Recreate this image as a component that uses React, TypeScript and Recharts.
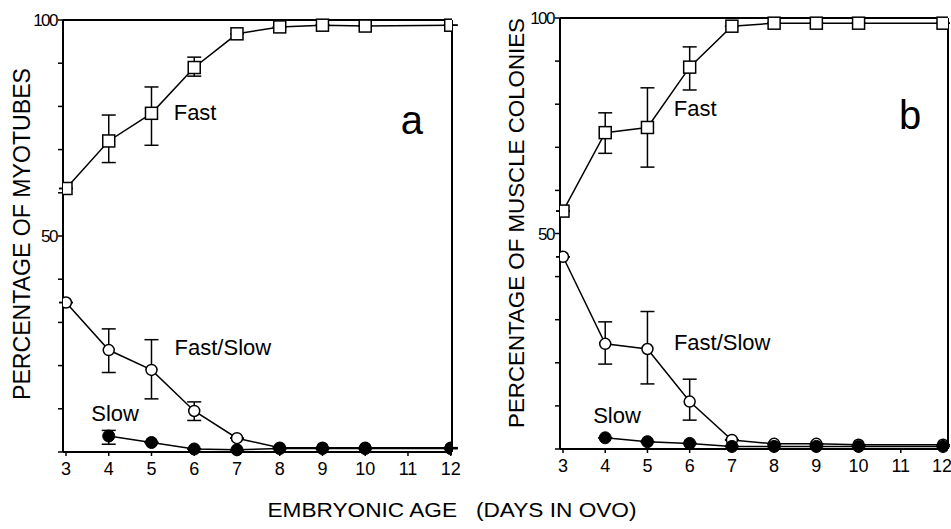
import React from 'react';
import { LineChart, Line, XAxis, YAxis, ErrorBar, ReferenceLine, ReferenceDot } from 'recharts';

// embryonic age (days in ovo)
const days = [3, 4, 5, 6, 7, 8, 9, 10, 12];
const xTicks = [3, 4, 5, 6, 7, 8, 9, 10, 11, 12];
const yTicks = [0, 10, 20, 30, 40, 50, 60, 70, 80, 90, 100];

// panel a: myotubes
const fastA = [61, 72, 78.4, 89, 96.8, 98.4, 98.8, 98.6, 98.8];
const fastALo = [0, 5, 7.4, 2, 0, 0, 0, 0, 0];
const fastAHi = [0, 6, 6.1, 2.4, 0, 0, 0, 0, 0];
const mixedA = [34.6, 23.6, 19, 9.5, 3.2, 1, 1, 1, 1];
const mixedALo = [0, 5.2, 6.7, 2.2, 0, 0, 0, 0, 0];
const mixedAHi = [0, 4.9, 7, 2.1, 0, 0, 0, 0, 0];
const slowA = [null, 3.7, 2.2, 0.7, 0.5, 0.8, 0.8, 0.8, 0.8];
const slowALo = [0, 1.9, 0, 0, 0, 0, 0, 0, 0];
const slowAHi = [0, 1.3, 0, 0, 0, 0, 0, 0, 0];

// panel b: muscle colonies
const fastB = [55.2, 73.4, 74.6, 88.6, 98.1, 98.8, 98.8, 98.8, 98.8];
const fastBLo = [0, 4.8, 9.2, 5.3, 0, 0, 0, 0, 0];
const fastBHi = [0, 4.6, 9.2, 4.7, 0, 0, 0, 0, 0];
const mixedB = [44.6, 24.4, 23.2, 11, 2.1, 1.2, 1.2, 1, 1];
const mixedBLo = [0, 4.7, 8.1, 4.3, 0, 0, 0, 0, 0];
const mixedBHi = [0, 5.1, 8.7, 5.2, 0, 0, 0, 0, 0];
const slowB = [null, 2.6, 1.7, 1.3, 0.6, 0.6, 0.6, 0.6, 0.6];

const FONT = '"Liberation Sans", Arial, sans-serif';

const buildRows = (
  fast: number[], fastLo: number[], fastHi: number[],
  mixed: number[], mixedLo: number[], mixedHi: number[],
  slow: (number | null)[], slowLo?: number[], slowHi?: number[]
) =>
  days.map((d, i) => ({
    day: d,
    fast: fast[i],
    fastErr: [fastLo[i], fastHi[i]],
    mixed: mixed[i],
    mixedErr: [mixedLo[i], mixedHi[i]],
    slow: slow[i],
    slowErr: [slowLo ? slowLo[i] : 0, slowHi ? slowHi[i] : 0],
  }));

const rowsA = buildRows(fastA, fastALo, fastAHi, mixedA, mixedALo, mixedAHi, slowA, slowALo, slowAHi);
const rowsB = buildRows(fastB, fastBLo, fastBHi, mixedB, mixedBLo, mixedBHi, slowB);

const squareDot = (p: any) => {
  if (p.cx == null || p.cy == null) return <g key={p.key} />;
  return <rect key={p.key} x={p.cx - 6} y={p.cy - 6} width={12} height={12} fill="#fff" stroke="#000" strokeWidth={1.5} />;
};
const openDot = (p: any) => {
  if (p.cx == null || p.cy == null) return <g key={p.key} />;
  return <circle key={p.key} cx={p.cx} cy={p.cy} r={5.5} fill="#fff" stroke="#000" strokeWidth={1.5} />;
};
const filledDot = (p: any) => {
  if (p.cx == null || p.cy == null) return <g key={p.key} />;
  return <circle key={p.key} cx={p.cx} cy={p.cy} r={6} fill="#000" stroke="#000" strokeWidth={1} />;
};

interface Note { x: number; y: number; text: string; size: number }

interface PanelProps {
  rows: any[];
  left: number;
  width: number;
  margin: { top: number; right: number; left: number; bottom: number };
  xDomain: [number, number];
  xAxisHeight: number;
  notes: Note[];
}

const Panel: React.FC<PanelProps> = ({ rows, left, width, margin, xDomain, xAxisHeight, notes }) => (
  <div style={{ position: 'absolute', left, top: 0 }}>
    <LineChart width={width} height={480} data={rows} margin={margin}>
      <XAxis
        dataKey="day"
        type="number"
        domain={xDomain}
        ticks={xTicks}
        allowDataOverflow
        height={xAxisHeight}
        axisLine={{ stroke: '#000', strokeWidth: 2 }}
        tickLine={{ stroke: '#000', strokeWidth: 1.5 }}
        tickSize={4}
        tickMargin={6}
        tick={{ fontSize: 18, fill: '#000', fontFamily: FONT }}
      />
      <YAxis
        type="number"
        domain={[0, 100]}
        ticks={yTicks}
        width={45}
        axisLine={{ stroke: '#000', strokeWidth: 2 }}
        tickLine={{ stroke: '#000', strokeWidth: 1.5 }}
        tickSize={5}
        tickMargin={1}
        tickFormatter={(v: number) => (v === 50 || v === 100 ? String(v) : '')}
        tick={{ fontSize: 17, fill: '#000', fontFamily: FONT, letterSpacing: -1.5 }}
      />
      <ReferenceLine y={100} stroke="#000" strokeWidth={2} />
      <ReferenceLine x={xDomain[1]} stroke="#000" strokeWidth={2} />
      <Line type="linear" dataKey="fast" stroke="#000" strokeWidth={1.5} dot={squareDot} activeDot={false} isAnimationActive={false}>
        <ErrorBar dataKey="fastErr" direction="y" width={7} stroke="#000" strokeWidth={1.5} />
      </Line>
      <Line type="linear" dataKey="mixed" stroke="#000" strokeWidth={1.5} dot={openDot} activeDot={false} isAnimationActive={false}>
        <ErrorBar dataKey="mixedErr" direction="y" width={7} stroke="#000" strokeWidth={1.5} />
      </Line>
      <Line type="linear" dataKey="slow" stroke="#000" strokeWidth={1.5} dot={filledDot} activeDot={false} isAnimationActive={false}>
        <ErrorBar dataKey="slowErr" direction="y" width={7} stroke="#000" strokeWidth={1.5} />
      </Line>
      {notes.map((n) => (
        <ReferenceDot
          key={n.text}
          x={n.x}
          y={n.y}
          r={0}
          fill="none"
          stroke="none"
          label={{ value: n.text, position: 'center', fontSize: n.size, fill: '#000', fontFamily: FONT }}
        />
      ))}
    </LineChart>
  </div>
);

const notesA: Note[] = [
  { x: 6.02, y: 78.7, text: 'Fast', size: 22 },
  { x: 11.09, y: 76.9, text: 'a', size: 40 },
  { x: 6.67, y: 24.3, text: 'Fast/Slow', size: 22 },
  { x: 4.15, y: 9, text: 'Slow', size: 22 },
];
const notesB: Note[] = [
  { x: 6.13, y: 79.1, text: 'Fast', size: 22 },
  { x: 11.22, y: 77.5, text: 'b', size: 40 },
  { x: 6.77, y: 24.8, text: 'Fast/Slow', size: 22 },
  { x: 4.28, y: 7.9, text: 'Slow', size: 22 },
];

export default function App() {
  return (
    <div style={{ position: 'absolute', left: 0, top: 0, width: 951, height: 529, background: '#fff', overflow: 'hidden' }}>
      <Panel
        rows={rowsA}
        left={0}
        width={470}
        margin={{ top: 20, right: 18, left: 18, bottom: 0 }}
        xDomain={[2.93, 12.03]}
        xAxisHeight={28}
        notes={notesA}
      />
      <Panel
        rows={rowsB}
        left={470}
        width={481}
        margin={{ top: 18, right: 3, left: 45, bottom: 0 }}
        xDomain={[2.929, 12.118]}
        xAxisHeight={31}
        notes={notesB}
      />
      <svg width={951} height={529} style={{ position: 'absolute', left: 0, top: 0, pointerEvents: 'none' }}>
        <text
          transform="translate(30, 234) rotate(-90)"
          textAnchor="middle"
          fontFamily={FONT}
          fontSize={23}
          textLength={332}
          lengthAdjust="spacingAndGlyphs"
        >
          PERCENTAGE OF MYOTUBES
        </text>
        <text
          transform="translate(524, 223) rotate(-90)"
          textAnchor="middle"
          fontFamily={FONT}
          fontSize={22}
          textLength={410}
          lengthAdjust="spacingAndGlyphs"
        >
          PERCENTAGE OF MUSCLE COLONIES
        </text>
        <text
          x={452}
          y={517}
          textAnchor="middle"
          fontFamily={FONT}
          fontSize={20}
          textLength={369}
          lengthAdjust="spacingAndGlyphs"
          xmlSpace="preserve"
        >
          EMBRYONIC AGE   (DAYS IN OVO)
        </text>
      </svg>
    </div>
  );
}
